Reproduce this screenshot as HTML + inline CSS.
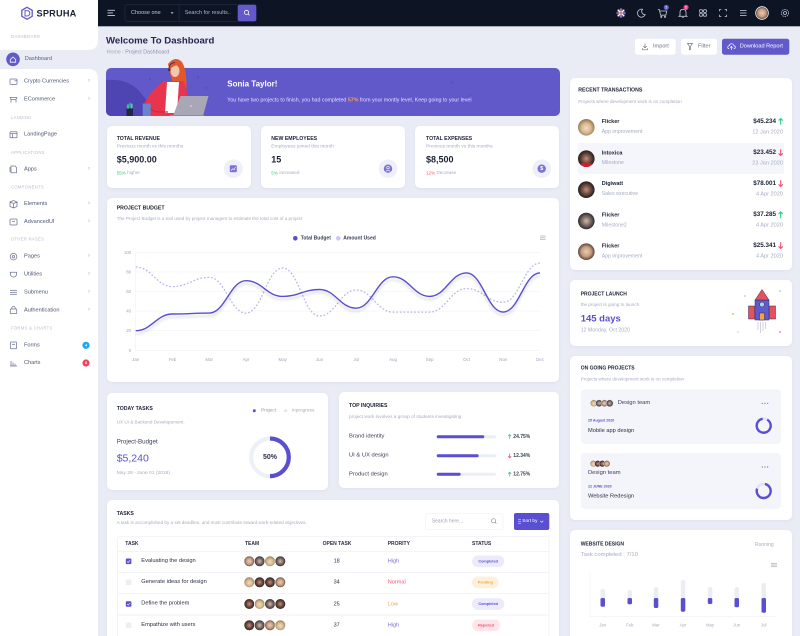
<!DOCTYPE html>
<html><head><meta charset="utf-8"><title>Spruha Dashboard</title>
<style>
html,body{margin:0;padding:0;width:800px;height:636px;overflow:hidden;background:#e9ebf5}
svg{display:block;font-family:"Liberation Sans",Arial,sans-serif}
svg text{dominant-baseline:central}
.b{font-weight:bold}
</style></head><body>
<svg width="800" height="636" viewBox="0 0 800 636" xmlns="http://www.w3.org/2000/svg">
<defs>
<filter id="sh" x="-10%" y="-10%" width="120%" height="130%"><feDropShadow dx="0" dy="1" stdDeviation="1.2" flood-color="#7c82b8" flood-opacity="0.10"/></filter>
<filter id="ls" x="-5%" y="-30%" width="110%" height="170%"><feDropShadow dx="0" dy="3" stdDeviation="1.4" flood-color="#000" flood-opacity="0.16"/></filter>
<clipPath id="bc"><rect x="106" y="68" width="454" height="48" rx="5"/></clipPath>
<clipPath id="fc"><circle cx="621" cy="13" r="4.6"/></clipPath>
<radialGradient id="ga" cx="50%" cy="50%" r="50%"><stop offset="0" stop-color="#e8ccb4"/><stop offset=".6" stop-color="#c49c80"/><stop offset="1" stop-color="#5a4438"/></radialGradient>
<radialGradient id="gb" cx="50%" cy="50%" r="50%"><stop offset="0" stop-color="#c58f75"/><stop offset=".55" stop-color="#6b4a40"/><stop offset="1" stop-color="#231c1c"/></radialGradient>
<radialGradient id="gc" cx="50%" cy="55%" r="50%"><stop offset="0" stop-color="#f1dcc6"/><stop offset=".6" stop-color="#d4b78c"/><stop offset="1" stop-color="#9a7f58"/></radialGradient>
<radialGradient id="gd" cx="50%" cy="50%" r="50%"><stop offset="0" stop-color="#d9b9a3"/><stop offset=".55" stop-color="#7a6a66"/><stop offset="1" stop-color="#2d2a30"/></radialGradient>
</defs>

<rect x="0" y="0" width="800" height="636" fill="#e9ebf5"/>

<!-- ============ SIDEBAR ============ -->
<rect x="0" y="0" width="98" height="636" fill="#fff"/>
<rect x="0" y="40" width="98" height="40" fill="#e9ebf5"/>
<path d="M0,26 H98 V40 Q98,50 88,50 H0 Z" fill="#fff"/>
<path d="M0,69 H88 Q98,69 98,79 V92 H0 Z" fill="#fff"/>
<polygon points="27,7.3 32.2,10.3 32.2,16.3 27,19.3 21.8,16.3 21.8,10.3" fill="none" stroke="#6259ca" stroke-width="1.3"/>
<path d="M25,10.6 V16 H26.8 Q29.8,16 29.8,13.3 Q29.8,10.6 26.8,10.6 Z" fill="none" stroke="#6259ca" stroke-width="1"/>
<text x="36.5" y="13.6" font-size="9.2" class="b" fill="#1e2236" letter-spacing="0.2">SPRUHA</text>

<g font-size="4.2" fill="#b9bccd" letter-spacing="0.3">
<text x="11" y="36.3">DASHBOARD</text>
<text x="11" y="117.3">LANDING</text>
<text x="11" y="152.3">APPLICATIONS</text>
<text x="11" y="187">COMPONENTS</text>
<text x="11" y="239">OTHER PAGES</text>
<text x="11" y="328">FORMS &amp; CHARTS</text>
</g>
<circle cx="13" cy="59.3" r="6.8" fill="#6259ca"/>
<path d="M10.3,59.5 L13,57 L15.7,59.5 V62.2 H10.3 Z" fill="none" stroke="#fff" stroke-width="0.8"/>
<text x="24.7" y="59" font-size="5.6" fill="#585d86">Dashboard</text>

<g font-size="5.6" fill="#4e5773">
<text x="24" y="81.7">Crypto Currencies</text>
<text x="24" y="99.7">ECommerce</text>
<text x="24" y="134.7">LandingPage</text>
<text x="24" y="169.3">Apps</text>
<text x="24" y="204">Elements</text>
<text x="24" y="222">AdvancedUI</text>
<text x="24" y="256.7">Pages</text>
<text x="24" y="274.7">Utilities</text>
<text x="24" y="292.3">Submenu</text>
<text x="24" y="310.3">Authentication</text>
<text x="24" y="345.3">Forms</text>
<text x="24" y="363">Charts</text>
</g>
<g font-size="6" fill="#a6aabf">
<text x="88" y="81.2">›</text><text x="88" y="99.2">›</text><text x="88" y="168.8">›</text>
<text x="88" y="203.5">›</text><text x="88" y="221.5">›</text><text x="88" y="256.2">›</text>
<text x="88" y="274.2">›</text><text x="88" y="291.8">›</text><text x="88" y="309.8">›</text>
</g>
<g fill="none" stroke="#6f7694" stroke-width="0.75">
<rect x="10" y="79" width="7" height="5.4" rx="0.8"/><line x1="14.5" y1="80.8" x2="17" y2="80.8"/>
<path d="M10.2,97.5 H16.8 L16,99.5 H11 Z M11,99.5 V102.5 M16,99.5 V102.5"/>
<rect x="10" y="131.8" width="7" height="6" rx="0.6"/><line x1="10" y1="133.6" x2="17" y2="133.6"/><line x1="12.5" y1="133.6" x2="12.5" y2="137.8"/>
<path d="M11,166 H15 L16.5,167.5 V172.8 H11 Z" /><line x1="10" y1="167" x2="10" y2="172"/>
<path d="M10,202 L13.5,200.5 L17,202 V206.5 L13.5,208 L10,206.5 Z M10,202 L13.5,203.5 L17,202 M13.5,203.5 V208"/>
<rect x="10" y="219" width="7" height="6" rx="1"/><line x1="12" y1="221.3" x2="15" y2="221.3"/>
<circle cx="13.5" cy="256.7" r="3.3"/><circle cx="13.5" cy="256.7" r="1.2"/>
<path d="M10.3,272.2 H16.7 L16.2,275.6 Q13.5,278.6 10.8,275.6 Z"/>
<line x1="10" y1="290.3" x2="17" y2="290.3"/><line x1="10" y1="292.3" x2="17" y2="292.3"/><line x1="10" y1="294.3" x2="17" y2="294.3"/>
<rect x="10.3" y="309" width="6.4" height="4.6" rx="0.6"/><path d="M11.8,309 V307.6 Q13.5,305 15.2,307.6 V309"/>
<rect x="10.5" y="342" width="6" height="6.8" rx="0.5"/><line x1="12" y1="344.3" x2="15" y2="344.3"/>
<path d="M10,366 H17 M11,366 V361 M13,366 V362.5 M15,366 V363.8"/>
</g>
<circle cx="86" cy="345.3" r="3.6" fill="#18a9f2"/><text x="86" y="345.4" font-size="3.6" fill="#fff" text-anchor="middle" class="b">4</text>
<circle cx="86" cy="363" r="3.6" fill="#f3445d"/><text x="86" y="363.1" font-size="3.6" fill="#fff" text-anchor="middle" class="b">8</text>

<!-- ============ HEADER ============ -->
<rect x="98" y="0" width="702" height="26.3" fill="#0d1524"/>
<g stroke="#c7ccd8" stroke-width="0.9">
<line x1="107.5" y1="10.3" x2="115" y2="10.3"/><line x1="107.5" y1="12.9" x2="113" y2="12.9"/><line x1="107.5" y1="15.5" x2="115" y2="15.5"/>
</g>
<rect x="125" y="4.7" width="131" height="16.6" rx="2" fill="#0d1524" stroke="#233047" stroke-width="0.7"/>
<line x1="179" y1="4.7" x2="179" y2="21.3" stroke="#233047" stroke-width="0.7"/>
<text x="131" y="13" font-size="5.5" fill="#c0c5d3">Choose one</text>
<path d="M170.6,12.2 L173.6,12.2 L172.1,14 Z" fill="#c0c5d3"/>
<text x="184.7" y="13" font-size="5.5" fill="#aeb4c5">Search for results..</text>
<rect x="237.7" y="4.7" width="18.6" height="16.6" rx="2" fill="#6259ca"/>
<circle cx="246.5" cy="12.4" r="2.1" fill="none" stroke="#fff" stroke-width="0.8"/>
<line x1="248" y1="13.9" x2="249.5" y2="15.4" stroke="#fff" stroke-width="0.8"/>

<g clip-path="url(#fc)">
<circle cx="621" cy="13" r="4.6" fill="#2a3d8f"/>
<g stroke="#fff" stroke-width="1.3"><line x1="616" y1="13" x2="626" y2="13"/><line x1="621" y1="8" x2="621" y2="18"/><line x1="617" y1="9" x2="625" y2="17"/><line x1="625" y1="9" x2="617" y2="17"/></g>
<g stroke="#d8243b" stroke-width="0.7"><line x1="616" y1="13" x2="626" y2="13"/><line x1="621" y1="8" x2="621" y2="18"/></g>
</g>
<g fill="none" stroke="#c5cad8" stroke-width="0.8">
<path d="M642.5,9.3 A4,4 0 1 0 645.2,14.6 A3.2,3.2 0 0 1 642.5,9.3 Z"/>
<path d="M657.8,9.5 H659.3 L660.6,15.2 H665.8 L666.8,11 H660"/><circle cx="661.3" cy="16.9" r="0.6"/><circle cx="665" cy="16.9" r="0.6"/>
<path d="M680,15.5 V12.5 Q680,9.3 683,9.3 Q686,9.3 686,12.5 V15.5 L687,16.3 H679 Z"/><line x1="682.2" y1="17.5" x2="683.8" y2="17.5"/>
<rect x="699.6" y="9.8" width="2.8" height="2.6" rx="0.5"/><rect x="703.6" y="9.8" width="2.8" height="2.6" rx="0.5"/><rect x="699.6" y="13.6" width="2.8" height="2.6" rx="0.5"/><rect x="703.6" y="13.6" width="2.8" height="2.6" rx="0.5"/>
<path d="M719.5,11.3 V9.5 H721.3 M724.7,9.5 H726.5 V11.3 M726.5,14.7 V16.5 H724.7 M721.3,16.5 H719.5 V14.7"/>
<line x1="740" y1="10.6" x2="746.5" y2="10.6"/><line x1="740" y1="13" x2="746.5" y2="13"/><line x1="740" y1="15.4" x2="746.5" y2="15.4"/>
<circle cx="785" cy="13" r="1.5"/><circle cx="785" cy="13" r="3.6" stroke-dasharray="1.4 0.9"/>
</g>
<circle cx="666.3" cy="7.4" r="2.6" fill="#6259ca"/><text x="666.3" y="7.5" font-size="3.4" fill="#fff" text-anchor="middle">5</text>
<circle cx="686" cy="7.4" r="2.6" fill="#f1388b"/><text x="686" y="7.5" font-size="3.4" fill="#fff" text-anchor="middle">5</text>
<circle cx="762" cy="13" r="6.4" fill="url(#ga)" stroke="#fff" stroke-width="0.7"/>

<!-- ============ TITLE & BUTTONS ============ -->
<text x="106" y="41" font-size="9.6" class="b" fill="#262550">Welcome To Dashboard</text>
<text x="106.7" y="52.3" font-size="5.3" fill="#a5a8bd">Home <tspan fill="#c8cad6">/</tspan> <tspan fill="#8d91ad">Project Dashboard</tspan></text>

<rect x="635" y="38.7" width="40.7" height="16" rx="2.5" fill="#fff"/>
<g fill="none" stroke="#6e7189" stroke-width="0.7"><path d="M645,43.5 V47.8 M643.3,46.2 L645,47.8 L646.7,46.2 M642.6,48.3 V49.8 H647.4 V48.3"/></g>
<text x="653" y="46.7" font-size="5.6" fill="#6e7189">Import</text>
<rect x="681" y="38.7" width="36" height="16" rx="2.5" fill="#fff"/>
<path d="M687.5,43.5 H692.5 L690.6,46.3 V49.2 L689.4,49.8 V46.3 Z" fill="none" stroke="#6e7189" stroke-width="0.7"/>
<text x="698" y="46.7" font-size="5.6" fill="#6e7189">Filter</text>
<rect x="722" y="38.7" width="67.3" height="16" rx="2.5" fill="#6259ca"/>
<path d="M729.2,48.8 Q727.6,48.6 727.8,47 Q728,45.6 729.4,45.7 Q729.9,43.6 731.8,43.8 Q733.8,44 734,45.9 Q735.5,46 735.3,47.5 Q735.1,48.8 733.6,48.8 M731.4,50 V46.5 M730.2,47.6 L731.4,46.4 L732.6,47.6" fill="none" stroke="#fff" stroke-width="0.7"/>
<text x="739.7" y="46.7" font-size="5.6" fill="#fff">Download Report</text>

<!-- ============ BANNER ============ -->
<rect x="106" y="68" width="454" height="48" rx="5" fill="#6158c9"/>
<g clip-path="url(#bc)">
<path d="M106,80 Q128,78 140,92 Q150,106 168,116 H106 Z" fill="#4e45b3"/>
<circle cx="150" cy="79" r="0.8" fill="#4e45b3"/><circle cx="198" cy="77" r="0.8" fill="#4e45b3"/><circle cx="206" cy="88" r="0.7" fill="#4e45b3"/>
<circle cx="452" cy="82" r="1.5" fill="#5a51c2"/><circle cx="470" cy="95" r="1" fill="#5a51c2"/>
</g>
<path d="M168,64 Q175,55 182,62 Q188,72 186,96 L179,96 Q171,82 168,64 Z" fill="#e3572c"/>
<ellipse cx="175" cy="71" rx="4.5" ry="6" fill="#f3c6ad"/>
<path d="M169.5,68 Q170,62 175.5,62 Q179,63 180,66 Q176,64 171,68 Z" fill="#e3572c"/>
<path d="M169,69 Q169,63 175,62.5" fill="none" stroke="#2e2f4a" stroke-width="0.8"/>
<circle cx="169.3" cy="70" r="1.2" fill="#2e2f4a"/>
<path d="M163,81 L183,81 Q189,90 187,116 L151,116 Q143,110 145,102 Q152,90 163,81 Z" fill="#e8344c"/>
<path d="M167,82 L179,82 L177,113 L165,113 Z" fill="#fff"/>
<path d="M145,102 Q150,112 160,112 L168,112" fill="none" stroke="#c92a40" stroke-width="1.2"/>
<rect x="142.7" y="103.5" width="8" height="12.5" rx="0.6" fill="#6a83cf"/>
<path d="M144.5,103.5 Q146.7,99 148.8,103.5" fill="none" stroke="#e8344c" stroke-width="0.7"/>
<path d="M173,116 L180.5,96 L208.5,96 L203,116 Z" fill="#a9a7b5"/>
<line x1="170" y1="115.5" x2="204" y2="115.5" stroke="#8f8d9c" stroke-width="1"/>
<circle cx="191" cy="106" r="0.8" fill="#e6e4ee"/>
<rect x="126.5" y="108.5" width="6.5" height="7.5" fill="#23263f"/>
<ellipse cx="128" cy="106.5" rx="1.2" ry="2.4" fill="#3fb6a8"/><ellipse cx="131.5" cy="106" rx="1.2" ry="2.6" fill="#55c3b5"/><ellipse cx="129.8" cy="105" rx="1" ry="2.6" fill="#2e9e92"/>
<text x="227.3" y="84.2" font-size="8" class="b" fill="#fff">Sonia Taylor!</text>
<text x="227.3" y="100.7" font-size="5.3" fill="#e3e0ff">You have two projects to finish, you had completed <tspan fill="#f9a14a" class="b">57%</tspan> from your montly level, Keep going to your level</text>

<!-- ============ CARDS ============ -->
<g filter="url(#sh)" fill="#fff">
<rect x="107" y="126" width="144" height="62" rx="5"/>
<rect x="261" y="126" width="144" height="62" rx="5"/>
<rect x="415" y="126" width="144" height="62" rx="5"/>
<rect x="107" y="198" width="452" height="184" rx="5"/>
<rect x="107" y="393" width="221" height="97" rx="5"/>
<rect x="339" y="392" width="220" height="96" rx="5"/>
<rect x="107" y="500" width="452" height="150" rx="5"/>
<rect x="570" y="78" width="222" height="192" rx="5"/>
<rect x="570" y="280" width="222" height="66" rx="5"/>
<rect x="570" y="356" width="222" height="164" rx="5"/>
<rect x="570" y="530" width="222" height="120" rx="5"/>
</g>

<g font-size="5.2" class="b" fill="#1d2235">
<text x="116.7" y="139">TOTAL REVENUE</text>
<text x="271.3" y="139">NEW EMPLOYEES</text>
<text x="426" y="139">TOTAL EXPENSES</text>
</g>
<g font-size="4.9" fill="#a7abc3">
<text x="116.7" y="147">Previous month vs this months</text>
<text x="271.3" y="147">Employees joined this month</text>
<text x="426" y="147">Previous month vs this months</text>
</g>
<g font-size="9" class="b" fill="#1d2235">
<text x="116.7" y="159.3">$5,900.00</text>
<text x="271.3" y="159.3">15</text>
<text x="426" y="159.3">$8,500</text>
</g>
<g font-size="4.6" fill="#a7abc3">
<text x="116.7" y="172.3"><tspan fill="#3cc27a">55%</tspan> higher</text>
<text x="271.3" y="172.3"><tspan fill="#3cc27a">5%</tspan> Increased</text>
<text x="426" y="172.3"><tspan fill="#f5576c">12%</tspan> Decrease</text>
</g>
<circle cx="233.3" cy="168.7" r="9.3" fill="#efeefb"/>
<rect x="229.8" y="165.2" width="7" height="7" rx="1" fill="#7b71d8"/>
<polyline points="231,170.6 232.6,168.8 234,169.8 235.6,167" fill="none" stroke="#fff" stroke-width="0.6"/>
<circle cx="388" cy="168.7" r="9.3" fill="#efeefb"/>
<circle cx="388" cy="168.7" r="4.2" fill="#7b71d8"/>
<circle cx="388" cy="167.6" r="1.3" fill="none" stroke="#fff" stroke-width="0.6"/>
<path d="M385.8,171.5 Q388,168.8 390.2,171.5" fill="none" stroke="#fff" stroke-width="0.6"/>
<circle cx="541.7" cy="168.7" r="9.3" fill="#efeefb"/>
<circle cx="541.7" cy="168.7" r="4.2" fill="#7b71d8"/>
<text x="541.7" y="168.9" font-size="5.4" fill="#fff" text-anchor="middle" class="b">$</text>

<!-- ============ PROJECT BUDGET ============ -->
<text x="116.7" y="208.7" font-size="5.2" class="b" fill="#1d2235">PROJECT BUDGET</text>
<text x="116.7" y="218.3" font-size="4.6" fill="#a7abc3">The Project Budget is a tool used by project managers to estimate the total cost of a project</text>
<circle cx="295.3" cy="238.3" r="2.3" fill="#5a4fd0"/>
<text x="300.7" y="238.4" font-size="5" class="b" fill="#373d52">Total Budget</text>
<circle cx="338.3" cy="238.3" r="2.3" fill="#cdc8f3"/>
<text x="343.3" y="238.4" font-size="5" class="b" fill="#373d52">Amount Used</text>
<g stroke="#a8abc0" stroke-width="0.7"><line x1="540" y1="236" x2="545.5" y2="236"/><line x1="540" y1="237.8" x2="545.5" y2="237.8"/><line x1="540" y1="239.6" x2="545.5" y2="239.6"/></g>

<g stroke="#f0f1f6" stroke-width="0.6">
<line x1="135.5" y1="252.3" x2="540" y2="252.3"/>
<line x1="135.5" y1="271.9" x2="540" y2="271.9"/>
<line x1="135.5" y1="291.5" x2="540" y2="291.5"/>
<line x1="135.5" y1="311.1" x2="540" y2="311.1"/>
<line x1="135.5" y1="330.7" x2="540" y2="330.7"/>
<line x1="135.5" y1="350.3" x2="540" y2="350.3"/>
<line x1="135.5" y1="252.3" x2="135.5" y2="350.3"/>
</g>
<g font-size="4.3" fill="#9fa3b9" text-anchor="end">
<text x="131" y="252.3">100</text><text x="131" y="271.9">80</text><text x="131" y="291.5">60</text>
<text x="131" y="311.1">40</text><text x="131" y="330.7">20</text><text x="131" y="350.3">0</text>
</g>
<g font-size="4.4" fill="#9fa3b9" text-anchor="middle">
<text x="135.7" y="359.3">Jan</text><text x="172.5" y="359.3">Feb</text><text x="209.2" y="359.3">Mar</text>
<text x="246" y="359.3">Apr</text><text x="282.7" y="359.3">May</text><text x="319.5" y="359.3">Jun</text>
<text x="356.2" y="359.3">Jul</text><text x="393" y="359.3">Aug</text><text x="429.7" y="359.3">Sep</text>
<text x="466.5" y="359.3">Oct</text><text x="503.2" y="359.3">Nov</text><text x="540" y="359.3">Dec</text>
</g>
<path d="M135.7,267 C151.7,267 156.5,286.6 172.5,286.6 S193.2,277.3 209.2,277.3 S230,313.1 246,313.1 S266.7,268 282.7,268 S303.5,316 319.5,316 S340.2,290 356.2,290 S377,312.1 393,312.1 S413.7,312.1 429.7,312.1 S450.5,288.6 466.5,288.6 S487.2,302.3 503.2,302.3 S524,263.1 540,263.1" fill="none" stroke="#bdb7ee" stroke-width="1.3" stroke-dasharray="1.8 1.8"/>
<path filter="url(#ls)" d="M135.7,330.7 C151.7,330.7 156.5,314 172.5,314 S193.2,313.1 209.2,313.1 S230,280.7 246,280.7 S266.7,296.4 282.7,296.4 S303.5,289.5 319.5,289.5 S340.2,308.2 356.2,308.2 S377,276.8 393,276.8 S413.7,296.4 429.7,296.4 S450.5,272.9 466.5,272.9 S487.2,312.1 503.2,312.1 S524,272.9 540,272.9" fill="none" stroke="#5a4fd0" stroke-width="1.4"/>

<!-- ============ TODAY TASKS ============ -->
<text x="116.7" y="409" font-size="5.2" class="b" fill="#1d2235">TODAY TASKS</text>
<circle cx="254.3" cy="410.7" r="1.5" fill="#5a4fd0"/>
<text x="261" y="410.8" font-size="4.8" fill="#8f93ad">Project</text>
<circle cx="285.7" cy="410.7" r="1.5" fill="#e3e3f0"/>
<text x="291.7" y="410.8" font-size="4.8" fill="#a7abc3">Inprogress</text>
<text x="116.7" y="422" font-size="4.6" fill="#a7abc3">UX UI &amp; Backend Developement.</text>
<text x="116.7" y="442" font-size="6.2" fill="#3a3f55">Project-Budget</text>
<text x="116.7" y="458.7" font-size="10.5" fill="#5a4fd0">$5,240</text>
<text x="116.7" y="473.7" font-size="4.9" fill="#a7abc3">May 28 - June 01 (2018)</text>
<circle cx="270" cy="457.3" r="18.8" fill="none" stroke="#eef0f7" stroke-width="4.2"/>
<path d="M270,438.5 A18.8,18.8 0 0 1 270,476.1" fill="none" stroke="#5a4fd0" stroke-width="4.2"/>
<text x="270" y="457.5" font-size="7" class="b" fill="#2b2f45" text-anchor="middle">50%</text>

<!-- ============ TOP INQUIRIES ============ -->
<text x="349" y="406" font-size="5.2" class="b" fill="#1d2235">TOP INQUIRIES</text>
<text x="349" y="416.7" font-size="4.7" fill="#a7abc3">project work involves a group of students investigating</text>
<g font-size="5.8" fill="#3a3f55">
<text x="349" y="436.7">Brand identity</text>
<text x="349" y="455.7">UI &amp; UX design</text>
<text x="349" y="474.3">Product design</text>
</g>
<g fill="#eceef7">
<rect x="436.7" y="435.2" width="59.3" height="3" rx="1.5"/>
<rect x="436.7" y="454.2" width="59.3" height="3" rx="1.5"/>
<rect x="436.7" y="472.8" width="59.3" height="3" rx="1.5"/>
</g>
<g fill="#5a4fd0">
<rect x="436.7" y="435.2" width="47.6" height="3" rx="1.5"/>
<rect x="436.7" y="454.2" width="42" height="3" rx="1.5"/>
<rect x="436.7" y="472.8" width="24" height="3" rx="1.5"/>
</g>
<g fill="none" stroke-width="0.8">
<path d="M509.7,438.8 V434.6 M508.2,436.1 L509.7,434.6 L511.2,436.1" stroke="#2dce89"/>
<path d="M509.7,453.6 V457.8 M508.2,456.3 L509.7,457.8 L511.2,456.3" stroke="#f34f70"/>
<path d="M509.7,476.4 V472.2 M508.2,473.7 L509.7,472.2 L511.2,473.7" stroke="#2dce89"/>
</g>
<g font-size="5" class="b" fill="#3a3f55">
<text x="513.3" y="436.8">24.75%</text>
<text x="513.3" y="455.8">12.34%</text>
<text x="513.3" y="474.4">12.75%</text>
</g>

<!-- ============ TASKS ============ -->
<text x="116.7" y="514" font-size="5.2" class="b" fill="#1d2235">TASKS</text>
<text x="116.7" y="522.7" font-size="4.6" fill="#a7abc3">A task is accomplished by a set deadline, and must contribute toward work-related objectives.</text>
<rect x="425.7" y="513.7" width="77.3" height="16" rx="2" fill="#fff" stroke="#eef0f6" stroke-width="0.6"/>
<text x="431.7" y="521.5" font-size="5" fill="#a0a4bc">Search here...</text>
<circle cx="493.5" cy="520.8" r="2.1" fill="none" stroke="#8a8ea6" stroke-width="0.7"/>
<line x1="495" y1="522.3" x2="496.3" y2="523.6" stroke="#8a8ea6" stroke-width="0.7"/>
<rect x="514" y="513" width="35.3" height="17" rx="2" fill="#5a4fd0"/>
<g stroke="#fff" stroke-width="0.5"><line x1="518" y1="519.8" x2="521" y2="519.8"/><line x1="518" y1="521.5" x2="521" y2="521.5"/><line x1="518" y1="523.2" x2="521" y2="523.2"/></g>
<text x="522.3" y="521.6" font-size="4.8" fill="#fff">Sort by</text>
<path d="M540.3,520.8 L541.8,522.3 L543.3,520.8" fill="none" stroke="#fff" stroke-width="0.6"/>

<g stroke="#eceef5" stroke-width="0.7" fill="none">
<path d="M117.7,640 V538.3 Q117.7,536.3 119.7,536.3 H547 Q549,536.3 549,538.3 V640"/>
<line x1="117.7" y1="551.3" x2="549" y2="551.3"/>
<line x1="117.7" y1="572.3" x2="549" y2="572.3"/>
<line x1="117.7" y1="593.7" x2="549" y2="593.7"/>
<line x1="117.7" y1="615" x2="549" y2="615"/>
</g>
<g font-size="5" class="b" fill="#2b2f45">
<text x="125.3" y="544">TASK</text>
<text x="245" y="544">TEAM</text>
<text x="337" y="544" text-anchor="middle">OPEN TASK</text>
<text x="387.7" y="544">PRORITY</text>
<text x="472" y="544">STATUS</text>
</g>
<rect x="125.8" y="558.5" width="5.6" height="5.6" rx="1" fill="#5a4fd0"/>
<path d="M127.1,561.4 L128.2,562.5 L130.2,560.2" fill="none" stroke="#fff" stroke-width="0.6"/>
<rect x="125.8" y="579.5" width="5.6" height="5.6" rx="1" fill="#eceef6"/>
<rect x="125.8" y="601.2" width="5.6" height="5.6" rx="1" fill="#5a4fd0"/>
<path d="M127.1,604.1 L128.2,605.2 L130.2,602.9" fill="none" stroke="#fff" stroke-width="0.6"/>
<rect x="125.8" y="622.5" width="5.6" height="5.6" rx="1" fill="#eceef6"/>
<g font-size="5.7" fill="#2b2f45">
<text x="141.3" y="560.8">Evaluating the design</text>
<text x="141.3" y="581.8">Generate ideas for design</text>
<text x="141.3" y="603.5">Define the problem</text>
<text x="141.3" y="624.8">Empathize with users</text>
</g>
<g stroke="#fff" stroke-width="0.6">
<circle cx="249.3" cy="561.3" r="5.3" fill="url(#ga)"/><circle cx="259.6" cy="561.3" r="5.3" fill="url(#gd)"/><circle cx="270" cy="561.3" r="5.3" fill="url(#gc)"/><circle cx="280.3" cy="561.3" r="5.3" fill="url(#gd)"/>
<circle cx="249.3" cy="582.3" r="5.3" fill="url(#gc)"/><circle cx="259.6" cy="582.3" r="5.3" fill="url(#gb)"/><circle cx="270" cy="582.3" r="5.3" fill="url(#gb)"/><circle cx="280.3" cy="582.3" r="5.3" fill="url(#ga)"/>
<circle cx="249.3" cy="604" r="5.3" fill="url(#gb)"/><circle cx="259.6" cy="604" r="5.3" fill="url(#gc)"/><circle cx="270" cy="604" r="5.3" fill="url(#gd)"/><circle cx="280.3" cy="604" r="5.3" fill="url(#gb)"/>
<circle cx="249.3" cy="625.3" r="5.3" fill="url(#gb)"/><circle cx="259.6" cy="625.3" r="5.3" fill="url(#gd)"/><circle cx="270" cy="625.3" r="5.3" fill="url(#ga)"/><circle cx="280.3" cy="625.3" r="5.3" fill="url(#gc)"/>
</g>
<g font-size="5.5" fill="#2b2f45" text-anchor="middle">
<text x="336.7" y="561.6">18</text><text x="336.7" y="582.6">34</text><text x="336.7" y="604.3">25</text><text x="336.7" y="625.6">37</text>
</g>
<g font-size="5.6">
<text x="387.7" y="561.6" fill="#7a6fd9">High</text>
<text x="387.7" y="582.6" fill="#f2577a">Normal</text>
<text x="387.7" y="604.3" fill="#f8a34c">Low</text>
<text x="387.7" y="625.6" fill="#7a6fd9">High</text>
</g>
<rect x="472" y="555.5" width="32.3" height="11.7" rx="5.8" fill="#eceafb"/>
<text x="488.2" y="561.5" font-size="3.8" class="b" fill="#5a4fd0" text-anchor="middle">Completed</text>
<rect x="472" y="576.5" width="26.7" height="11.7" rx="5.8" fill="#fdf0dd"/>
<text x="485.3" y="582.5" font-size="3.8" class="b" fill="#f4a53e" text-anchor="middle">Pending</text>
<rect x="472" y="598.2" width="32.3" height="11.7" rx="5.8" fill="#eceafb"/>
<text x="488.2" y="604.2" font-size="3.8" class="b" fill="#5a4fd0" text-anchor="middle">Completed</text>
<rect x="472" y="619.5" width="28" height="11.7" rx="5.8" fill="#fde5ea"/>
<text x="486" y="625.5" font-size="3.8" class="b" fill="#ef4b6a" text-anchor="middle">Rejected</text>

<!-- ============ RECENT TRANSACTIONS ============ -->
<text x="578.3" y="90.7" font-size="5.2" class="b" fill="#1d2235">RECENT TRANSACTIONS</text>
<text x="578.3" y="101.7" font-size="4.6" fill="#a7abc3">Projects where development work is on completion</text>
<rect x="577.7" y="143" width="206.3" height="31" rx="2" fill="#f5f6fb"/>
<circle cx="586.3" cy="127.3" r="8.3" fill="url(#gc)"/>
<circle cx="586.3" cy="158.7" r="8.3" fill="url(#gb)"/>
<path d="M580,164 Q586.3,161 592.6,164 Q590,167 586.3,167 Q582.6,167 580,164 Z" fill="#d11e2c"/>
<circle cx="586.3" cy="189.7" r="8.3" fill="url(#gb)"/>
<circle cx="586.3" cy="221" r="8.3" fill="url(#gd)"/>
<circle cx="586.3" cy="251.7" r="8.3" fill="url(#ga)"/>
<g font-size="5.5" class="b" fill="#1d2235">
<text x="601.7" y="122">Flicker</text>
<text x="601.7" y="153.3">Intoxica</text>
<text x="601.7" y="184">Digiwatt</text>
<text x="601.7" y="215.3">Flicker</text>
<text x="601.7" y="246.3">Flicker</text>
</g>
<g font-size="5.2" fill="#a7abc3">
<text x="601.7" y="132">App improvement</text>
<text x="601.7" y="163">Milestone</text>
<text x="601.7" y="194">Sales executive</text>
<text x="601.7" y="225.3">Milestone2</text>
<text x="601.7" y="256.3">App improvement</text>
</g>
<g font-size="6.3" class="b" fill="#1d2235" text-anchor="end">
<text x="776" y="121.3">$45.234</text>
<text x="776" y="152.7">$23.452</text>
<text x="776" y="183.7">$78.001</text>
<text x="776" y="214.7">$37.285</text>
<text x="776" y="245.7">$25.341</text>
</g>
<g fill="none" stroke-width="1.1" stroke-linecap="round">
<path d="M780.7,124.3 V118.5 M778.9,120.3 L780.7,118.5 L782.5,120.3" stroke="#2dce89"/>
<path d="M780.7,149.7 V155.5 M778.9,153.7 L780.7,155.5 L782.5,153.7" stroke="#f34f70"/>
<path d="M780.7,180.7 V186.5 M778.9,184.7 L780.7,186.5 L782.5,184.7" stroke="#f34f70"/>
<path d="M780.7,217.7 V211.9 M778.9,213.7 L780.7,211.9 L782.5,213.7" stroke="#2dce89"/>
<path d="M780.7,242.7 V248.5 M778.9,246.7 L780.7,248.5 L782.5,246.7" stroke="#f34f70"/>
</g>
<g font-size="5.6" fill="#a7abc3" text-anchor="end">
<text x="783" y="132.7">12 Jan 2020</text>
<text x="783" y="163.7">23 Jan 2020</text>
<text x="783" y="194.7">4 Apr 2020</text>
<text x="783" y="225.7">4 Apr 2020</text>
<text x="783" y="256.7">4 Apr 2020</text>
</g>

<!-- ============ PROJECT LAUNCH ============ -->
<text x="580.7" y="294.7" font-size="5" class="b" fill="#1d2235">PROJECT LAUNCH</text>
<text x="580.7" y="304.3" font-size="4.6" fill="#a7abc3">the project is going to launch</text>
<text x="580.7" y="319" font-size="9.5" class="b" fill="#5a4fd0">145 days</text>
<text x="580.7" y="330.7" font-size="5.2" fill="#a7abc3">12 Monday, Oct 2020</text>
<g stroke="#2b2d55" stroke-width="0.5">
<rect x="748.5" y="306" width="6" height="13" fill="#e8505b"/>
<rect x="769.5" y="306" width="6" height="13" fill="#e8505b"/>
<rect x="755" y="300" width="14" height="20" fill="#6259ca"/>
<path d="M755,300 L762,289.5 L769,300 Z" fill="#e8505b"/>
<circle cx="762" cy="304.5" r="2.4" fill="#9fd7f5"/>
<rect x="759.5" y="313" width="5" height="7" fill="#f6a241"/>
</g>
<g stroke="#a3a6bd" stroke-width="0.5">
<line x1="758" y1="322" x2="758" y2="330"/><line x1="760.5" y1="322" x2="760.5" y2="333"/><line x1="763" y1="322" x2="763" y2="331"/><line x1="765.5" y1="322" x2="765.5" y2="329"/>
</g>
<circle cx="733" cy="314" r="0.9" fill="#f6a241"/><circle cx="780" cy="291" r="0.8" fill="#58c4e8"/><circle cx="780" cy="332" r="0.8" fill="#e8505b"/><circle cx="745" cy="296" r="0.6" fill="#e8505b"/><circle cx="738" cy="332" r="0.6" fill="#f6a241"/>

<!-- ============ ON GOING PROJECTS ============ -->
<text x="580.7" y="368.3" font-size="5" class="b" fill="#1d2235">ON GOING PROJECTS</text>
<text x="580.7" y="379" font-size="4.6" fill="#a7abc3">Projects where development work is on completion</text>
<rect x="581" y="389.5" width="200" height="54.5" rx="4" fill="#f4f4fb"/>
<rect x="581" y="453" width="200" height="56" rx="4" fill="#f4f4fb"/>
<g stroke="#f4f4fb" stroke-width="0.5">
<circle cx="593.8" cy="403.3" r="3.5" fill="url(#gc)"/><circle cx="599.1" cy="403.3" r="3.5" fill="url(#gd)"/><circle cx="604.4" cy="403.3" r="3.5" fill="url(#ga)"/><circle cx="609.7" cy="403.3" r="3.5" fill="url(#gd)"/>
<circle cx="593.3" cy="463.7" r="3.3" fill="url(#gc)"/><circle cx="597.8" cy="463.7" r="3.3" fill="url(#gb)"/><circle cx="602.3" cy="463.7" r="3.3" fill="url(#gb)"/><circle cx="606.8" cy="463.7" r="3.3" fill="url(#ga)"/>
</g>
<g font-size="5.8" fill="#3a3f55">
<text x="617.7" y="403.2">Design team</text>
<text x="588" y="473">Design team</text>
</g>
<g fill="#6b7088"><circle cx="762.3" cy="403.3" r="0.6"/><circle cx="765" cy="403.3" r="0.6"/><circle cx="767.7" cy="403.3" r="0.6"/>
<circle cx="762.3" cy="467" r="0.6"/><circle cx="765" cy="467" r="0.6"/><circle cx="767.7" cy="467" r="0.6"/></g>
<g font-size="3.6" class="b" fill="#5a4fd0">
<text x="588" y="420.7">25 August 2020</text>
<text x="588" y="486.3">12 JUNE 2020</text>
</g>
<g font-size="5.7" fill="#2b2f45">
<text x="588" y="431">Mobile app design</text>
<text x="588" y="496.7">Website Redesign</text>
</g>
<circle cx="763.7" cy="425.7" r="7" fill="none" stroke="#e2e0f6" stroke-width="2.4"/>
<circle cx="763.7" cy="425.7" r="7" fill="none" stroke="#5a4fd0" stroke-width="2.4" stroke-dasharray="39 5" transform="rotate(-60 763.7 425.7)"/>
<circle cx="763.7" cy="491" r="7" fill="none" stroke="#e2e0f6" stroke-width="2.4"/>
<circle cx="763.7" cy="491" r="7" fill="none" stroke="#5a4fd0" stroke-width="2.4" stroke-dasharray="34 10" transform="rotate(-80 763.7 491)"/>

<!-- ============ WEBSITE DESIGN ============ -->
<text x="580.7" y="544.7" font-size="5" class="b" fill="#1d2235">WEBSITE DESIGN</text>
<text x="755" y="545" font-size="5" fill="#a7abc3">Running</text>
<text x="580.7" y="555" font-size="5.9" fill="#a7abc3">Task completed : 7/10</text>
<g stroke="#a8abc0" stroke-width="0.7"><line x1="771" y1="563.3" x2="777" y2="563.3"/><line x1="771" y1="565" x2="777" y2="565"/><line x1="771" y1="566.7" x2="777" y2="566.7"/></g>
<g stroke="#f0f1f6" stroke-width="0.6"><line x1="590" y1="573" x2="590" y2="616.7"/><line x1="590" y1="616.7" x2="776" y2="616.7"/></g>
<g fill="#ececf3">
<rect x="600.5" y="589" width="4.5" height="17.7" rx="2.2"/>
<rect x="627.5" y="590" width="4.5" height="15" rx="2.2"/>
<rect x="653.8" y="587" width="4.5" height="21" rx="2.2"/>
<rect x="680.8" y="580" width="4.5" height="31.7" rx="2.2"/>
<rect x="707.8" y="587" width="4.5" height="17" rx="2.2"/>
<rect x="734.5" y="587" width="4.5" height="20.3" rx="2.2"/>
<rect x="761.5" y="583" width="4.5" height="29.7" rx="2.2"/>
</g>
<g fill="#5a4fd0">
<rect x="600.5" y="598" width="4.5" height="8.7" rx="1.5"/>
<rect x="627.5" y="598" width="4.5" height="6.3" rx="1.5"/>
<rect x="653.8" y="598" width="4.5" height="10" rx="1.5"/>
<rect x="680.8" y="598" width="4.5" height="13.7" rx="1.5"/>
<rect x="707.8" y="598" width="4.5" height="6" rx="1.5"/>
<rect x="734.5" y="598" width="4.5" height="9.3" rx="1.5"/>
<rect x="761.5" y="598" width="4.5" height="14.7" rx="1.5"/>
</g>
<g font-size="4.3" fill="#a7abc3" text-anchor="middle">
<text x="602.7" y="625">Jan</text><text x="629.7" y="625">Feb</text><text x="656" y="625">Mar</text>
<text x="683" y="625">Apr</text><text x="710" y="625">May</text><text x="736.7" y="625">Jun</text><text x="763.7" y="625">Jul</text>
</g>
</svg>
</body></html>
